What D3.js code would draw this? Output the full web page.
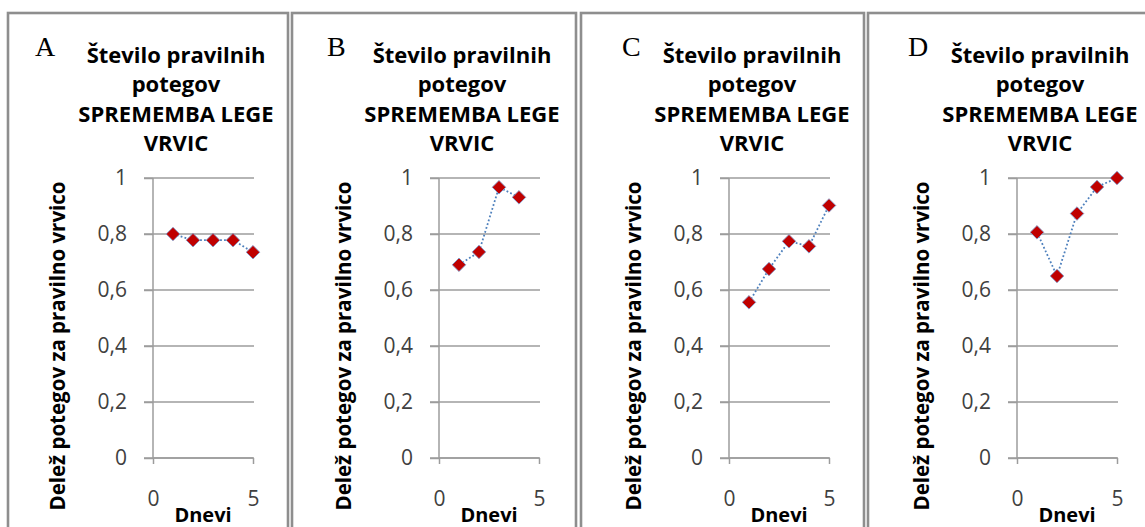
<!DOCTYPE html>
<html>
<head>
<meta charset="utf-8">
<script src="https://cdn.jsdelivr.net/npm/d3@7"></script>
<style>
  html, body { margin: 0; padding: 0; background: #ffffff; }
  svg { display: block; }
</style>
</head>
<body>
<svg id="chart" width="1145" height="527"></svg>
<script>
// ---- data ----
const panelLetters = ["A", "B", "C", "D"];
const titleLines = ["Število pravilnih", "potegov", "SPREMEMBA LEGE", "VRVIC"];
const yAxisTitle = "Delež potegov za pravilno vrvico";
const xAxisTitle = "Dnevi";
const yTicks = [0, 0.2, 0.4, 0.6, 0.8, 1];
const xTicks = [0, 5];
const days = [1, 2, 3, 4, 5];
const seriesA = [0.80, 0.778, 0.778, 0.778, 0.735];
const seriesB = [0.69, 0.736, 0.967, 0.931];
const seriesC = [0.556, 0.675, 0.774, 0.756, 0.902];
const seriesD = [0.806, 0.650, 0.873, 0.968, 1.0];
const allSeries = [seriesA, seriesB, seriesC, seriesD];

// ---- layout ----
const panelLeft = [8, 292, 581, 868];
const panelRight = [288, 576, 864, 1160];
const axisLeft = [153, 439, 729, 1017];
const letterLeft = [35, 327, 622, 908];
const plotTop = 178, plotBottom = 458, plotWidth = 100;

const svg = d3.select("#chart");
const locale = d3.formatLocale({decimal: ",", thousands: ".", grouping: [3], currency: ["", " €"]});
const fmt = locale.format(".1~f");
const gridColor = "#9c9c9c";

allSeries.forEach((vals, i) => {
  const g = svg.append("g");
  // panel frame
  g.append("rect")
    .attr("x", panelLeft[i]).attr("y", 13)
    .attr("width", panelRight[i] - panelLeft[i]).attr("height", 600)
    .attr("fill", "none").attr("stroke", "#8e8e8e").attr("stroke-width", 2.6);

  const x = d3.scaleLinear().domain([0, 5]).range([axisLeft[i], axisLeft[i] + plotWidth]);
  const y = d3.scaleLinear().domain([0, 1]).range([plotBottom, plotTop]);

  // gridlines
  g.append("g").selectAll("line").data(yTicks).join("line")
    .attr("x1", axisLeft[i] - 9).attr("x2", axisLeft[i] + plotWidth + 1)
    .attr("y1", d => y(d)).attr("y2", d => y(d))
    .attr("stroke", gridColor).attr("stroke-width", 1.5);

  // y axis
  const ya = g.append("g").attr("transform", `translate(${axisLeft[i]},0)`)
    .call(d3.axisLeft(y).tickValues(yTicks).tickFormat(fmt).tickSize(9).tickPadding(17));
  ya.select(".domain").attr("stroke", gridColor).attr("stroke-width", 1.5)
    .attr("d", `M0,${plotTop}V${plotBottom}`);
  ya.selectAll(".tick line").attr("stroke", gridColor).attr("stroke-width", 1.5);
  ya.selectAll(".tick text").attr("fill", "#404040")
    .style("font-family", "'Open Sans', sans-serif").style("font-size", "21px");

  // x axis
  const xa = g.append("g").attr("transform", `translate(0,${plotBottom})`)
    .call(d3.axisBottom(x).tickValues(xTicks).tickFormat(d3.format("d")).tickSize(6).tickPadding(27));
  xa.select(".domain").attr("stroke", gridColor).attr("stroke-width", 1.5)
    .attr("d", `M${axisLeft[i]},0H${axisLeft[i] + plotWidth}`);
  xa.selectAll(".tick line").attr("stroke", gridColor).attr("stroke-width", 1.5);
  xa.selectAll(".tick text").attr("fill", "#404040")
    .style("font-family", "'Open Sans', sans-serif").style("font-size", "21px");

  // series line
  const pts = vals.map((v, k) => [days[k], v]);
  g.append("path").datum(pts)
    .attr("d", d3.line().x(d => x(d[0])).y(d => y(d[1])))
    .attr("fill", "none").attr("stroke", "#4f81bd").attr("stroke-width", 1.8)
    .attr("stroke-dasharray", "1.8,2.2");

  // markers
  g.append("g").selectAll("path").data(pts).join("path")
    .attr("transform", d => `translate(${x(d[0])},${y(d[1])}) rotate(45)`)
    .attr("d", "M-4.8,-4.8H4.8V4.8H-4.8Z")
    .attr("fill", "#c00000").attr("stroke", "#7f9ed0").attr("stroke-width", 0.8);

  // titles
  const cx = axisLeft[i] + 23;
  g.append("text").attr("text-anchor", "middle")
    .style("font-family", "'Open Sans', sans-serif").style("font-size", "22px").style("font-weight", "bold")
    .attr("fill", "#000")
    .selectAll("tspan").data(titleLines).join("tspan")
    .attr("x", cx).attr("y", (d, k) => 63 + k * 29.3).text(d => d);

  // panel letter
  g.append("text").attr("x", letterLeft[i]).attr("y", 56)
    .style("font-family", "'Liberation Serif', 'Times New Roman', serif").style("font-size", "28px")
    .attr("fill", "#000").text(panelLetters[i]);

  // y title
  g.append("text")
    .attr("transform", `translate(${axisLeft[i] - 88},${346}) rotate(-90)`)
    .attr("text-anchor", "middle")
    .style("font-family", "'Open Sans', sans-serif").style("font-size", "20.5px").style("font-weight", "bold")
    .attr("fill", "#000").text(yAxisTitle);

  // x title
  g.append("text").attr("x", axisLeft[i] + plotWidth / 2).attr("y", 522)
    .attr("text-anchor", "middle")
    .style("font-family", "'Open Sans', sans-serif").style("font-size", "20px").style("font-weight", "bold")
    .attr("fill", "#000").text(xAxisTitle);
});
</script>
</body>
</html>
